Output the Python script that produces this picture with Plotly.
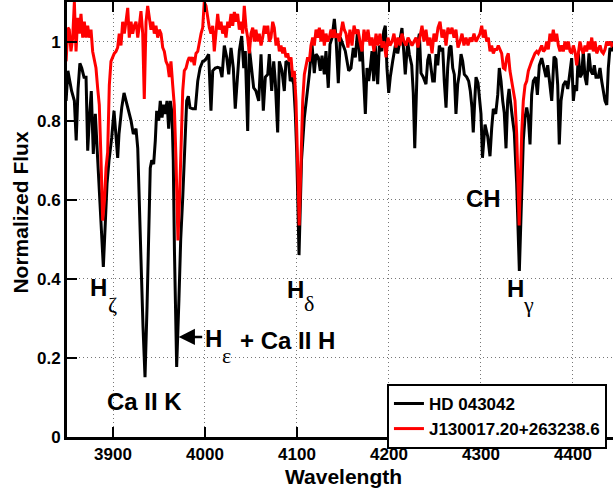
import plotly.graph_objects as go

# ---------------- data ----------------
hd_wave = [3849, 3851, 3853, 3855, 3858, 3860, 3862, 3864, 3866, 3868.5, 3870.7, 3872.5, 3874.2, 3876.4,
           3878.6, 3880.8, 3883.4, 3885.1, 3887, 3889.5, 3891.8, 3893.5, 3895.7, 3898.6, 3901.1, 3903.3,
           3905.1, 3906.5, 3909.5, 3912, 3914.1, 3917.1, 3919.6, 3922.1, 3925, 3926.9, 3928.8, 3930.4,
           3932.6, 3934.8, 3937, 3938.6, 3940.5, 3942.1, 3944.2, 3946, 3947.5, 3949.7, 3951.4, 3953.3,
           3955.1, 3956.9, 3958.7, 3960.5, 3962.3, 3964.1, 3965.5, 3966.8, 3969.2, 3971.7, 3973.6, 3975.8,
           3978.3, 3980.1, 3981.9, 3983.7, 3986.6, 3989.5, 3992.1, 3994.6, 3997.5, 4000.3, 4004, 4006.5,
           4008.4, 4011.2, 4013.8, 4016.3, 4018.5, 4021, 4023.6, 4025.8, 4028.3, 4030.8, 4032.9, 4035.5,
           4037.3, 4039.9, 4042.1, 4043.8, 4046.4, 4048.2, 4050.8, 4052.9, 4055.4, 4058.4, 4060.9, 4063.4,
           4065.6, 4068.2, 4069.9, 4072.5, 4074.7, 4076.4, 4079, 4080.8, 4083.7, 4086.2, 4088, 4091,
           4092.7, 4094.6, 4096.4, 4098.2, 4099.7, 4102.2, 4104.9, 4108, 4110.6, 4113.4, 4116.3, 4118.8,
           4120.7, 4123.2, 4125.3, 4127.2, 4129.7, 4131.5, 4134, 4135.9, 4138.1, 4140.6, 4142.4, 4144.9,
           4147.1, 4149.7, 4152.5, 4156.2, 4158.7, 4161.2, 4163.4, 4166, 4168.5, 4170.7, 4172.5, 4174.3,
           4176.1, 4177.9, 4179.7, 4181.5, 4183.4, 4185.1, 4187.7, 4189.5, 4192.1, 4194.3, 4196, 4197.8,
           4199.7, 4201.4, 4204, 4206.9, 4209.5, 4212, 4214.1, 4216, 4217.7, 4220.3, 4222.1, 4224.7,
           4226.4, 4228, 4229.7, 4231.5, 4233, 4234.8, 4237.3, 4240.2, 4242.1, 4243.8, 4245.7, 4247.5,
           4249.3, 4251.1, 4253, 4254.7, 4256.5, 4258.4, 4260.1, 4262, 4263.8, 4265.6, 4267.4, 4269.3,
           4271, 4272.8, 4274.7, 4276.4, 4278.3, 4280.1, 4281.9, 4284.5, 4286.6, 4288.4, 4290.2, 4291.6,
           4293.2, 4294.6, 4296.8, 4298.6, 4300, 4301.6, 4304.4, 4307.3, 4309.8, 4311.6, 4313.4, 4316,
           4318.2, 4319.9, 4321.8, 4323.6, 4325.3, 4327.2, 4329, 4330.5, 4332.3, 4334.1, 4336.2, 4338.8,
           4341.7, 4344.3, 4346, 4347.9, 4349.7, 4351.5, 4353.3, 4355.1, 4356.9, 4359.5, 4361.3, 4363.4,
           4366, 4368.5, 4370.7, 4372.5, 4375, 4376.9, 4379.4, 4381.5, 4383.4, 4385.1, 4387, 4389.5,
           4392.1, 4394.3, 4396, 4398.6, 4400.4, 4402.2, 4404, 4405.8, 4407.6, 4409.5, 4411.2, 4413.1,
           4414.9, 4417.4, 4419.3, 4421.4, 4423.2, 4425, 4427.5, 4429.4, 4431.2, 4433, 4434.8, 4436.7,
           4438.4, 4440.2, 4442.1, 4443.5, 4446]
hd_flux = [0.85, 0.926, 0.90, 0.875, 0.85, 0.75, 0.88, 0.945, 0.933, 0.91, 0.91, 0.724, 0.80, 0.875,
           0.716, 0.817, 0.70, 0.63, 0.52, 0.43, 0.55, 0.64, 0.70, 0.757, 0.825, 0.75,
           0.706, 0.766, 0.833, 0.87, 0.85, 0.817, 0.80, 0.766, 0.78, 0.73, 0.60, 0.45,
           0.28, 0.151, 0.33, 0.50, 0.68, 0.70, 0.69, 0.75, 0.825, 0.80, 0.85, 0.808,
           0.84, 0.817, 0.85, 0.78, 0.85, 0.82, 0.70, 0.47, 0.177, 0.35, 0.50, 0.605,
           0.75, 0.85, 0.862, 0.833, 0.83, 0.83, 0.90, 0.933, 0.95, 0.953, 0.968, 0.825,
           0.926, 0.933, 0.935, 0.933, 0.91, 0.99, 0.96, 0.917, 0.984, 0.933, 0.83, 0.91,
           0.976, 1.014, 0.933, 0.976, 0.774, 0.984, 0.933, 0.883, 0.875, 0.85, 0.968, 0.825,
           0.91, 0.917, 0.968, 0.875, 0.95, 0.90, 0.77, 0.95, 0.926, 0.875, 0.95, 0.945,
           0.90, 0.91, 0.892, 0.817, 0.72, 0.46, 0.70, 0.808, 0.86, 0.917, 0.993, 0.92,
           0.968, 0.96, 0.926, 0.964, 0.917, 0.976, 0.883, 0.993, 1.01, 1.057, 1.01, 0.895,
           1.01, 0.993, 0.976, 0.926, 0.933, 0.984, 0.96, 1.03, 0.95, 0.99, 0.91, 0.817,
           0.933, 0.90, 0.933, 0.976, 0.90, 0.99, 0.892, 0.99, 0.976, 1.026, 1.04, 0.933,
           0.87, 0.91, 0.95, 0.99, 0.97, 1.01, 1.034, 0.976, 0.917, 1.0, 0.968, 0.94,
           0.87, 0.73, 0.892, 1.0, 1.02, 0.92, 0.91, 0.892, 0.953, 0.968, 0.933, 0.90,
           0.90, 0.968, 0.94, 0.99, 0.976, 0.984, 0.90, 0.833, 0.933, 0.984, 0.99, 0.933,
           0.917, 0.817, 0.892, 0.917, 0.968, 0.95, 0.917, 0.91, 0.90, 0.875, 0.833, 0.77,
           0.85, 0.91, 0.895, 0.85, 0.817, 0.706, 0.79, 0.76, 0.71, 0.78, 0.83, 0.817,
           0.865, 0.933, 0.90, 0.85, 0.82, 0.73, 0.85, 0.88, 0.85, 0.808, 0.77, 0.64,
           0.42, 0.64, 0.75, 0.808, 0.833, 0.808, 0.74, 0.865, 0.90, 0.91, 0.865, 0.94,
           0.958, 0.933, 0.91, 0.94, 0.89, 0.85, 0.962, 0.955, 0.89, 0.74, 0.85, 0.89,
           0.90, 0.88, 0.91, 0.958, 0.85, 0.89, 0.875, 0.97, 0.91, 0.917, 0.976, 0.91,
           0.89, 0.97, 0.926, 0.917, 0.94, 0.91, 0.91, 0.933, 0.90, 0.875, 0.85, 0.84,
           0.933, 0.984, 0.976, 1.0, 0.96]

j13_wave = [3849, 3851, 3852.5, 3854.3, 3856.2, 3858, 3859.8, 3861.6, 3863.4, 3865.2, 3867.1, 3868.8,
            3870.7, 3872.5, 3874.2, 3876.1, 3877.9, 3879.7, 3881.5, 3883.4, 3885.1, 3887, 3888.8, 3890.8,
            3892.4, 3894.2, 3896, 3897.8, 3899.7, 3901.4, 3903.3, 3905.1, 3906.8, 3908.7, 3910.5, 3912.3,
            3914.1, 3916, 3917.7, 3919.6, 3921.4, 3923.2, 3925, 3926.9, 3928.6, 3930.4, 3932.3, 3934,
            3935.9, 3937.7, 3939.5, 3941.3, 3943.2, 3944.9, 3946.7, 3948.6, 3950.3, 3952.2, 3954, 3955.8,
            3957.6, 3959.5, 3961.2, 3963, 3964.9, 3966.6, 3968.5, 3970.6, 3972.3, 3973.9, 3975.8, 3977.5,
            3979.4, 3981.2, 3982.9, 3984.8, 3986.6, 3988.4, 3990.2, 3992.1, 3993.8, 3995.7, 3997.5, 3999.2,
            4001.1, 4002.9, 4004.7, 4006.5, 4008.4, 4010.1, 4012, 4013.8, 4015.6, 4017.4, 4019.2, 4021,
            4022.8, 4024.7, 4026.4, 4028.3, 4030.1, 4031.9, 4033.7, 4035.5, 4037.3, 4039.1, 4041, 4042.7,
            4044.6, 4046.4, 4048.2, 4050, 4051.9, 4053.6, 4055.4, 4057.3, 4059, 4060.9, 4062.7, 4064.5,
            4066.3, 4068.2, 4069.9, 4071.7, 4073.6, 4075.3, 4077.2, 4079, 4080.8, 4082.6, 4084.5, 4086.2,
            4088, 4089.9, 4091.6, 4093.5, 4095.3, 4097.1, 4098.9, 4100.5, 4102.4, 4104.4, 4106.2, 4108,
            4109.8, 4111.6, 4113.4, 4115.2, 4117.1, 4118.8, 4120.7, 4122.5, 4124.3, 4126.1, 4128, 4129.7,
            4131.5, 4133.4, 4135.1, 4137, 4138.8, 4140.6, 4142.4, 4144.3, 4146, 4147.8, 4149.7, 4151.4,
            4153.3, 4155.4, 4157.6, 4159.8, 4162, 4164.1, 4166.3, 4168.5, 4170.7, 4172.8, 4175, 4177.2,
            4179.4, 4181.5, 4183.7, 4185.9, 4188, 4190.2, 4192.4, 4194.6, 4196.8, 4198.9, 4201.1, 4203.3,
            4205.4, 4207.6, 4209.8, 4212, 4214.1, 4216.3, 4218.5, 4220.7, 4222.8, 4225, 4227.2, 4229.4,
            4231.5, 4233.7, 4235.9, 4238, 4240.2, 4242.4, 4244.6, 4246.8, 4248.9, 4251.1, 4253.3, 4255.5,
            4257.6, 4259.8, 4262, 4264.1, 4266.3, 4268.5, 4270.7, 4272.8, 4275, 4277.2, 4279.4, 4281.5,
            4283.7, 4285.9, 4288.1, 4290.2, 4292.4, 4294.6, 4296.8, 4298.9, 4300.8, 4302.5, 4304.4, 4306.2,
            4308, 4309.8, 4311.6, 4313.4, 4315.2, 4317.1, 4318.8, 4320.7, 4322.5, 4324.3, 4326.1, 4328,
            4329.7, 4331.5, 4333.4, 4335.1, 4337, 4338.8, 4341.5, 4344.3, 4346, 4347.9, 4349.7, 4351.5,
            4353.3, 4355.1, 4356.9, 4358.7, 4360.6, 4362.3, 4364.2, 4366, 4367.8, 4369.6, 4371.5, 4373.2,
            4375, 4376.9, 4378.6, 4380.5, 4382.3, 4384.1, 4385.9, 4387.7, 4389.5, 4391.3, 4393.2, 4394.9,
            4396.8, 4398.6, 4400.4, 4402.2, 4404, 4405.8, 4407.6, 4409.5, 4411.2, 4413.1, 4414.9, 4416.7,
            4418.5, 4420.4, 4422.1, 4424, 4425.8, 4427.5, 4429.4, 4431.2, 4433, 4434.8, 4436.7, 4438.4,
            4440.2, 4442.1, 4446]
j13_flux = [0.95, 1.035, 1.03, 0.975, 1.01, 1.10, 0.975, 1.06, 1.02, 1.07, 1.01, 1.05,
            1.01, 1.04, 1.01, 1.03, 0.975, 0.95, 0.933, 0.88, 0.84, 0.70, 0.547, 0.60,
            0.68, 0.72, 0.89, 0.95, 0.96, 0.97, 0.975, 0.985, 1.02, 0.99, 1.05, 1.02,
            1.05, 1.085, 1.01, 1.05, 1.02, 1.04, 1.05, 1.01, 1.04, 1.077, 1.02, 0.855,
            1.05, 1.09, 1.06, 1.03, 1.05, 1.02, 1.04, 1.01, 1.03, 1.02, 0.985, 0.975,
            0.95, 0.94, 0.91, 0.95, 0.89, 0.84, 0.70, 0.497, 0.60, 0.75, 0.875, 0.926,
            0.933, 0.95, 0.96, 0.953, 0.96, 0.94, 0.97, 0.975, 1.0, 1.02, 1.035, 1.10,
            1.09, 1.06, 1.035, 1.02, 1.04, 0.975, 1.03, 1.07, 1.03, 1.05, 1.02, 1.04,
            1.01, 1.05, 1.035, 1.07, 1.04, 1.075, 1.05, 1.07, 1.03, 1.05, 1.02, 1.09,
            1.035, 1.01, 0.97, 1.02, 1.035, 1.0, 1.03, 1.0, 1.02, 0.99, 1.01, 1.04,
            1.02, 1.04, 1.0, 1.01, 1.05, 1.035, 0.99, 1.01, 0.975, 0.99, 0.97, 0.985,
            0.96, 0.97, 0.95, 0.96, 0.91, 0.926, 0.85, 0.70, 0.535, 0.70, 0.85, 0.917,
            0.94, 0.96, 0.95, 0.99, 1.01, 0.99, 1.03, 1.01, 1.035, 1.0, 1.03, 0.99,
            1.02, 1.0, 1.01, 1.03, 1.01, 1.03, 1.01, 1.02, 1.0, 1.02, 1.05, 1.03,
            1.02, 0.985, 1.03, 0.99, 1.04, 1.02, 1.03, 1.0, 0.975, 1.03, 1.0, 1.03,
            0.99, 1.01, 0.975, 1.02, 0.99, 1.02, 0.985, 1.0, 0.96, 1.01, 0.99, 1.0,
            1.02, 0.985, 1.01, 0.99, 1.02, 1.0, 0.99, 1.01, 1.0, 0.99, 1.0, 1.01,
            0.985, 1.01, 1.04, 1.0, 1.03, 0.99, 1.01, 0.97, 1.02, 1.0, 1.035, 1.05,
            1.01, 1.03, 0.99, 1.035, 1.02, 1.035, 1.01, 1.03, 0.985, 1.0, 1.02, 0.99,
            1.01, 0.99, 1.01, 1.0, 1.02, 1.0, 1.01, 1.02, 1.04, 1.01, 1.03, 1.0,
            1.01, 0.975, 0.99, 0.97, 0.98, 0.98, 0.99, 0.98, 0.97, 0.933, 0.93, 0.96,
            0.97, 0.926, 0.90, 0.875, 0.85, 0.766, 0.535, 0.77, 0.85, 0.89, 0.90, 0.926,
            0.94, 0.95, 0.96, 0.97, 0.975, 0.97, 0.98, 0.99, 0.975, 0.98, 1.0, 0.98,
            1.02, 1.0, 1.03, 1.0, 1.02, 0.99, 0.975, 0.99, 0.975, 1.0, 0.98, 1.0,
            0.975, 0.97, 0.99, 0.975, 0.94, 0.97, 1.0, 0.98, 0.97, 0.99, 0.975, 1.0,
            0.98, 1.01, 0.975, 1.0, 0.97, 0.98, 0.99, 0.975, 0.97, 0.98, 1.0, 0.99,
            1.0, 0.99, 1.0]

x_ticks = [3900, 4000, 4100, 4200, 4300, 4400]
y_ticks = [0, 0.2, 0.4, 0.6, 0.8, 1.0]
y_tick_labels = ["0", "0.2", "0.4", "0.6", "0.8", "1"]
series_names = ["HD 043042", "J130017.20+263238.6"]

# ---------------- figure ----------------
SANS = "Liberation Sans, Arial, Helvetica, sans-serif"
SERIF = "Liberation Serif, Times New Roman, serif"

fig = go.Figure()
fig.add_trace(go.Scatter(x=hd_wave, y=hd_flux, mode="lines", name=series_names[0],
                         line=dict(color="black", width=3)))
fig.add_trace(go.Scatter(x=j13_wave, y=j13_flux, mode="lines", name=series_names[1],
                         line=dict(color="#ff0000", width=3)))

grid_dash = "1px,3px"
fig.update_layout(
    width=613, height=493,
    margin=dict(l=67, r=0, t=2, b=56, autoexpand=False),
    paper_bgcolor="white", plot_bgcolor="white",
    font=dict(family=SANS, color="black"),
    showlegend=True,
    legend=dict(x=0.586, y=0.122, xanchor="left", yanchor="top",
                bgcolor="white", bordercolor="black", borderwidth=2,
                font=dict(family=SANS, size=17, weight="bold", color="black"),
                tracegroupgap=0, itemwidth=30,
                entrywidthmode="pixels", entrywidth=200),
    xaxis=dict(range=[3850, 4443.5], tickvals=x_ticks, ticktext=[str(v) for v in x_ticks],
               showline=True, linecolor="black", linewidth=3, mirror="ticks",
               ticks="inside", ticklen=10, tickwidth=2, tickcolor="black",
               showgrid=True, gridcolor="#777777", gridwidth=1, griddash=grid_dash,
               zeroline=False,
               tickfont=dict(family=SANS, size=17, weight="bold", color="black")),
    yaxis=dict(range=[0, 1.1], tickvals=y_ticks, ticktext=y_tick_labels,
               showline=True, linecolor="black", linewidth=3, mirror=False,
               ticks="inside", ticklen=10, tickwidth=2, tickcolor="black",
               showgrid=True, gridcolor="#777777", gridwidth=1, griddash=grid_dash,
               zeroline=False,
               tickfont=dict(family=SANS, size=17, weight="bold", color="black")),
    yaxis2=dict(range=[0, 1.1], overlaying="y", side="right", tickvals=y_ticks,
                showticklabels=False, ticks="inside", ticklen=5, tickwidth=2,
                tickcolor="black", showgrid=False, showline=False, zeroline=False),
)

big = dict(family=SANS, size=24, weight="bold", color="black")
greek = dict(family=SERIF, size=22, color="black")

def label(x, y, text, font, xref="x", yref="y", **kw):
    fig.add_annotation(x=x, y=y, xref=xref, yref=yref, text=text, showarrow=False,
                       font=font, xanchor="center", yanchor="middle", **kw)

# H zeta
label(3883.9, 0.378, "H", big)
label(3899.0, 0.334, "ζ", greek)
# Ca II K
label(3934.5, 0.090, "Ca II K", big)
# arrow to H epsilon
fig.add_annotation(x=3971.4, y=0.253, xref="x", yref="y", text="", showarrow=True,
                   ax=25, ay=0, arrowhead=2, arrowsize=1.3, arrowwidth=2.5, arrowcolor="black")
label(4009.5, 0.248, "H", big)
label(4023.0, 0.205, "ε", greek)
label(4089.3, 0.243, "+ Ca II H", big)
# H delta
label(4098.0, 0.373, "H", big)
label(4112.7, 0.3375, "δ", greek)
# CH
label(4303.0, 0.602, "CH", big)
# H gamma
label(4337.0, 0.375, "H", big)
label(4352.0, 0.334, "γ", greek)

# axis titles
label(0.5064, -0.0897, "Wavelength", dict(family=SANS, size=21, weight="bold", color="black"),
      xref="paper", yref="paper")
label(-0.0842, 0.516, "Normalized Flux", dict(family=SANS, size=21, weight="bold", color="black"),
      xref="paper", yref="paper", textangle=-90)

fig.write_html("out.html", config={"displayModeBar": False},
               post_script="document.body.style.margin='0';")
